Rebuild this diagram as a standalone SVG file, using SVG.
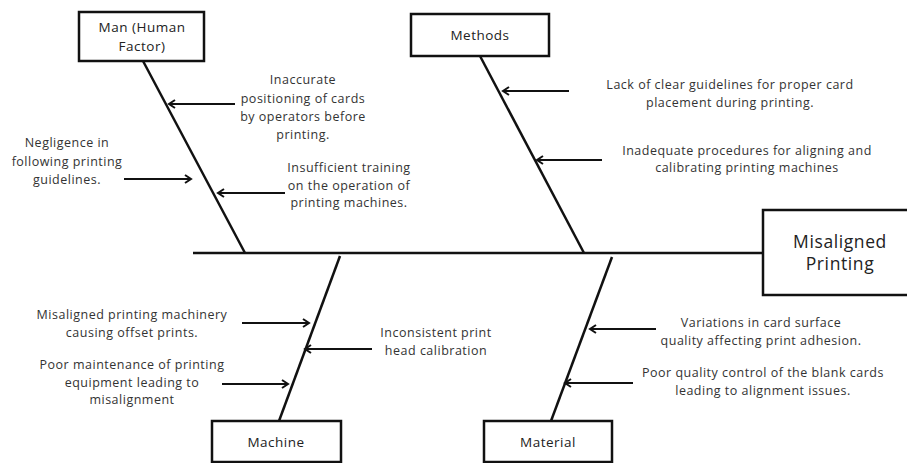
<svg xmlns="http://www.w3.org/2000/svg" width="907" height="463" viewBox="0 0 907 463">
<defs>
<style>
.box{fill:#fff;stroke:#111;stroke-width:2.5}
.spine{stroke:#111;stroke-width:2.5;fill:none}
.arr{stroke:#111;stroke-width:2.2;fill:none;marker-end:url(#ah)}
.t{font-family:"Open Sans","Liberation Sans",sans-serif;font-size:12.5px;letter-spacing:0.5px;fill:#333;text-anchor:middle}
.h{font-family:"Open Sans","Liberation Sans",sans-serif;font-size:13.5px;letter-spacing:0.5px;fill:#222;text-anchor:middle}
.big{font-family:"Open Sans","Liberation Sans",sans-serif;font-size:17.5px;letter-spacing:0.6px;fill:#222;text-anchor:middle}
</style>
<marker id="ah" markerWidth="10" markerHeight="10" refX="8" refY="5" orient="auto" markerUnits="userSpaceOnUse">
<path d="M2,1 L8,5 L2,9" fill="none" stroke="#111" stroke-width="2"/>
</marker>
</defs>
<g id="connectors">
<line class="spine" x1="193" y1="253" x2="763" y2="253"/>
<line class="spine" x1="143" y1="61" x2="245" y2="253"/>
<line class="spine" x1="480" y1="56" x2="584" y2="253"/>
<line class="spine" x1="340" y1="256" x2="279" y2="421"/>
<line class="spine" x1="612" y1="257" x2="551" y2="421"/>
<line class="arr" x1="235" y1="104" x2="169" y2="104"/>
<line class="arr" x1="124" y1="179" x2="191" y2="179"/>
<line class="arr" x1="285" y1="193" x2="218" y2="193"/>
<line class="arr" x1="569" y1="91" x2="503" y2="91"/>
<line class="arr" x1="602" y1="160" x2="537" y2="160"/>
<line class="arr" x1="242" y1="323" x2="309" y2="323"/>
<line class="arr" x1="372" y1="349" x2="305" y2="349"/>
<line class="arr" x1="222" y1="384" x2="288" y2="384"/>
<line class="arr" x1="656" y1="329" x2="590" y2="329"/>
<line class="arr" x1="633" y1="383" x2="565" y2="383"/>
</g>
<g id="man">
<rect class="box" x="79" y="12" width="125" height="49"/>
<text class="h" x="142" y="32">Man (Human</text>
<text class="h" x="142" y="51">Factor)</text>
</g>
<g id="methods">
<rect class="box" x="411" y="14" width="138" height="42"/>
<text class="h" x="480" y="40">Methods</text>
</g>
<g id="machine">
<rect class="box" x="212" y="421" width="129" height="41"/>
<text class="h" x="276" y="447">Machine</text>
</g>
<g id="material">
<rect class="box" x="484" y="421" width="128" height="41"/>
<text class="h" x="548" y="447">Material</text>
</g>
<g id="effect">
<rect class="box" x="763" y="210" width="150" height="85"/>
<text class="big" x="840" y="248">Misaligned</text>
<text class="big" x="840" y="270">Printing</text>
</g>
<g id="causes">
<text class="t" x="303" y="84">Inaccurate</text>
<text class="t" x="303" y="103">positioning of cards</text>
<text class="t" x="303" y="121">by operators before</text>
<text class="t" x="303" y="139">printing.</text>
<text class="t" x="67" y="147">Negligence in</text>
<text class="t" x="67" y="166">following printing</text>
<text class="t" x="67" y="184">guidelines.</text>
<text class="t" x="349" y="172">Insufficient training</text>
<text class="t" x="349" y="190">on the operation of</text>
<text class="t" x="349" y="207">printing machines.</text>
<text class="t" x="730" y="89">Lack of clear guidelines for proper card</text>
<text class="t" x="730" y="107">placement during printing.</text>
<text class="t" x="747" y="155">Inadequate procedures for aligning and</text>
<text class="t" x="747" y="172">calibrating printing machines</text>
<text class="t" x="132" y="319">Misaligned printing machinery</text>
<text class="t" x="132" y="337">causing offset prints.</text>
<text class="t" x="436" y="337">Inconsistent print</text>
<text class="t" x="436" y="355">head calibration</text>
<text class="t" x="132" y="369">Poor maintenance of printing</text>
<text class="t" x="132" y="387">equipment leading to</text>
<text class="t" x="132" y="404">misalignment</text>
<text class="t" x="761" y="327">Variations in card surface</text>
<text class="t" x="761" y="345">quality affecting print adhesion.</text>
<text class="t" x="763" y="377">Poor quality control of the blank cards</text>
<text class="t" x="763" y="395">leading to alignment issues.</text>
</g>
</svg>
